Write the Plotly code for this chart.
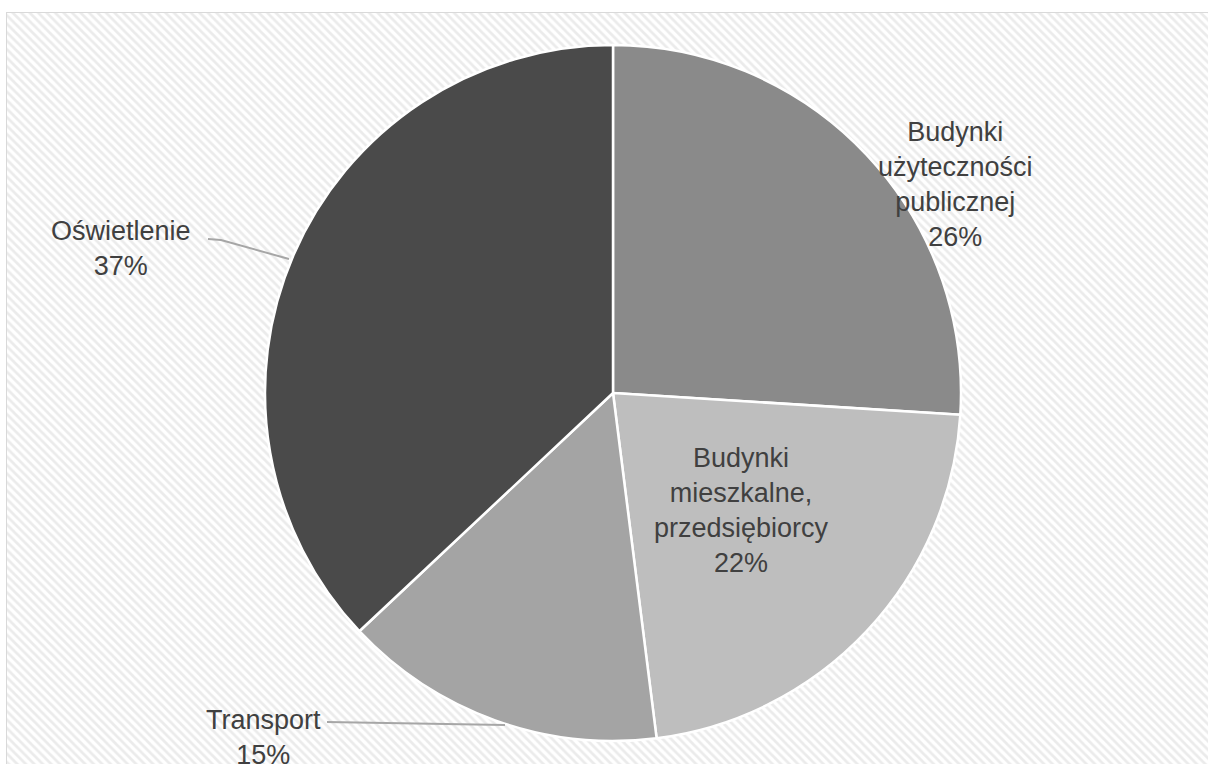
import plotly.graph_objects as go

# Udział sektorów w zużyciu energii
categories = [
    "Budynki<br>użyteczności<br>publicznej",
    "Budynki<br>mieszkalne,<br>przedsiębiorcy",
    "Transport",
    "Oświetlenie",
]
shares = [26, 22, 15, 37]
slice_colors = ["#8a8a8a", "#bebebe", "#a4a4a4", "#4a4a4a"]

W, H = 1208, 764
cx, cy, r = 613, 393, 348

fig = go.Figure()

# hatched chart-area background
fig.add_trace(go.Scatter(
    x=[7, 1230, 1230, 7, 7], y=[13, 13, 790, 790, 13],
    mode="lines", fill="toself", line=dict(width=0),
    fillcolor="white",
    fillpattern=dict(shape="\\", fgcolor="#d8d8d8", bgcolor="white",
                     size=6, solidity=0.45),
    hoverinfo="skip", showlegend=False,
))

fig.add_trace(go.Pie(
    labels=categories, values=shares, sort=False,
    direction="clockwise", rotation=0,
    marker=dict(colors=slice_colors, line=dict(color="white", width=2.5)),
    textinfo="none", hoverinfo="label+percent", showlegend=False,
    domain=dict(x=[(cx - r) / W, (cx + r) / W],
                y=[1 - (cy + r) / H, 1 - (cy - r) / H]),
))

# label anchors (pixel coordinates of the text block centres), same order as categories
label_pos = [(955, 184), (741, 510), (263, 737), (121, 248)]
for name, val, (lx, ly) in zip(categories, shares, label_pos):
    fig.add_annotation(
        x=lx, y=ly, xref="x", yref="y", showarrow=False,
        text=f"{name}<br>{val}%", align="center",
        font=dict(family="Liberation Sans, Arial", size=27, color="#404040"),
    )

# leader lines
leader = dict(color="#a6a6a6", width=2)
fig.add_shape(type="path", path="M 208 239 L 221 240 L 289 259",
              xref="x", yref="y", line=leader)
fig.add_shape(type="line", x0=327, y0=722, x1=505, y1=725,
              xref="x", yref="y", line=leader)

# chart frame
fig.add_shape(type="rect", x0=7, y0=13, x1=1230, y1=790,
              xref="x", yref="y", line=dict(color="#d9d9d9", width=2),
              layer="below")

fig.update_layout(
    width=W, height=H,
    margin=dict(l=0, r=0, t=0, b=0),
    paper_bgcolor="white", plot_bgcolor="white",
    xaxis=dict(range=[0, W], visible=False, fixedrange=True),
    yaxis=dict(range=[H, 0], visible=False, fixedrange=True),
)

fig.write_html("out.html")
